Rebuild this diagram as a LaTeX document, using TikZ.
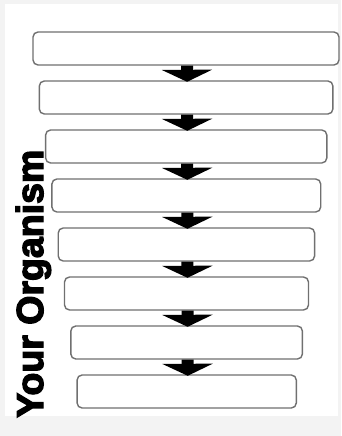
\documentclass[tikz,border=0pt]{standalone}
\usepackage{fontspec}
\setmainfont{Liberation Sans}
\newfontfamily\heavyfont[FakeBold=3.5]{Liberation Sans Bold}
\usetikzlibrary{arrows.meta}
\definecolor{bggray}{HTML}{F3F3F3}
\definecolor{boxgray}{HTML}{707070}
\tikzset{
  stepbox/.style={draw=boxgray, line width=1.4pt, rounded corners=5pt, fill=white,
    rectangle, inner sep=0pt, minimum height=33pt},
  blockarrow/.style={draw=black, line width=12pt,
    -{Triangle[width=50pt,length=12pt]}, shorten >=-1.5pt},
  sidelabel/.style={rotate=90, anchor=base west, inner sep=0pt,
    font=\fontsize{37.5}{37.5}\selectfont\heavyfont}
}
\begin{document}
\begin{tikzpicture}[x=1pt,y=-1pt]
\useasboundingbox (0,0) rectangle (341,436);
\fill[bggray] (0,0) rectangle (341,436);
\fill[white] (5,4) rectangle (338,416);
\foreach \i in {1,...,8}{
  \pgfmathsetmacro{\cx}{186+0.1*(\i-1)}
  \pgfmathsetmacro{\cy}{48.5+49*(\i-1)}
  \pgfmathsetmacro{\w}{306-12.4*(\i-1)}
  \node[stepbox, minimum width=\w pt] (b\i) at (\cx,\cy) {};
}
\foreach \i/\j in {1/2,2/3,3/4,4/5,5/6,6/7,7/8}{
  \draw[blockarrow] ([xshift=1pt]b\i.south) -- ([xshift=1pt]b\j.north);
}
\node[sidelabel] (lbl) at (43,418) {Your Organism};
\end{tikzpicture}
\end{document}
